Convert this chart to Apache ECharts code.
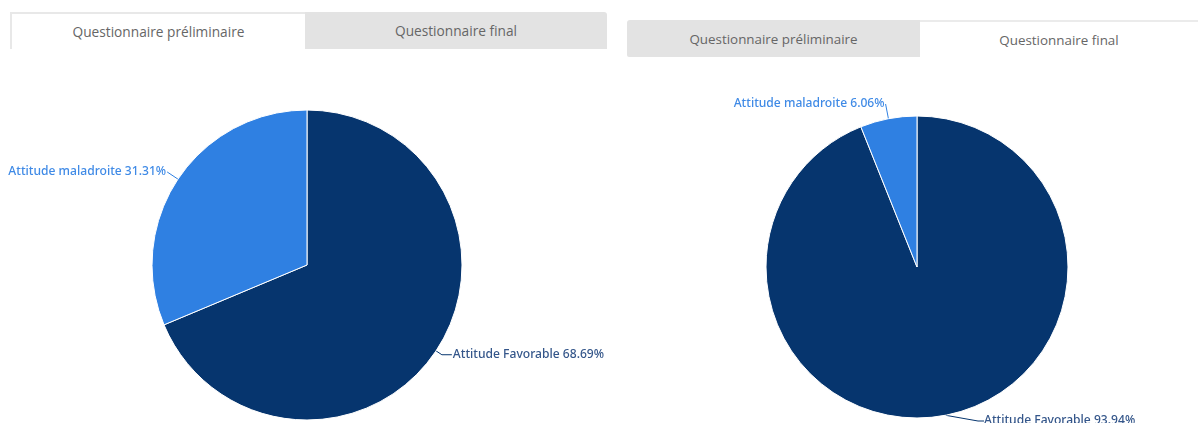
<!DOCTYPE html>
<html>
<head>
<meta charset="utf-8">
<script src="https://cdn.jsdelivr.net/npm/echarts@6/dist/echarts.min.js"></script>
<style>
  html, body { margin: 0; padding: 0; background: #fff; }
  #chart { position: absolute; left: 0; top: 0; width: 1198px; height: 423px; }
  .tabs { position: absolute; display: flex; font-family: "Open Sans", sans-serif; font-size: 13.7px; color: #666; }
  .tab { display: flex; align-items: center; justify-content: center; box-sizing: border-box; }
  .tab.off { background: #e3e3e3; }
  .tab.on { background: #fff; }
  #tabsA { left: 10px; top: 12px; width: 597px; height: 37px; }
  #tabsA .on { width: 295px; border-top: 2px solid #e8e8e8; border-left: 2px solid #e8e8e8; }
  #tabsA .off { width: 302px; border-top-right-radius: 3px; }
  #tabsB { left: 627px; top: 20px; width: 571px; height: 37px; font-size: 13.4px; }
  #tabsB .off { width: 293px; border-top-left-radius: 3px; border-bottom-left-radius: 2px; }
  #tabsB .on { width: 278px; border-top: 2px solid #ebebeb; }
</style>
</head>
<body>
<div id="chart"></div>
<div class="tabs" id="tabsA"><div class="tab on">Questionnaire préliminaire</div><div class="tab off">Questionnaire final</div></div>
<div class="tabs" id="tabsB"><div class="tab off">Questionnaire préliminaire</div><div class="tab on">Questionnaire final</div></div>
<script>
// Attitude shares (%) for each questionnaire
const categories = ['Attitude Favorable', 'Attitude maladroite'];
const preliminaryValues = [68.69, 31.31];
const finalValues = [93.94, 6.06];

const sliceColors = ['#06356e', '#2f80e2'];
const labelColors = ['#34568a', '#3f8ae6'];

// connector lengths per slice: [length, length2]
const preliminaryLines = [[7, 10], [13, 0]];
const finalLines = [[8, 6], [15, 0]];

function pieData(values, lines) {
  return categories.map((name, i) => ({
    name: name,
    value: values[i],
    itemStyle: { color: sliceColors[i] },
    label: { color: labelColors[i] },
    labelLine: { length: lines[i][0], length2: lines[i][1] }
  }));
}

function pieSeries(values, lines, center, radius) {
  return {
    type: 'pie',
    center: center,
    radius: radius,
    startAngle: 90,
    clockwise: true,
    avoidLabelOverlap: false,
    data: pieData(values, lines),
    itemStyle: { borderColor: '#fff', borderWidth: 1 },
    label: {
      show: true,
      formatter: '{b} {c}%',
      fontFamily: 'Noto Sans',
      fontSize: 12.1,
      fontWeight: 500,
      distanceToLabelLine: 1
    },
    labelLine: { show: true, lineStyle: { width: 1 } },
    emphasis: { disabled: true }
  };
}

const chart = echarts.init(document.getElementById('chart'), null, { renderer: 'canvas' });
chart.setOption({
  animation: false,
  series: [
    pieSeries(preliminaryValues, preliminaryLines, [307, 265], 155),
    Object.assign(pieSeries(finalValues, finalLines, [917, 267], 151), {
      // the bottom label sits beside the pie edge, to the right
      labelLayout: function (params) {
        if (params.dataIndex === 0) {
          return { x: 984, y: 421, align: 'left', verticalAlign: 'middle' };
        }
      }
    })
  ]
});
</script>
</body>
</html>
